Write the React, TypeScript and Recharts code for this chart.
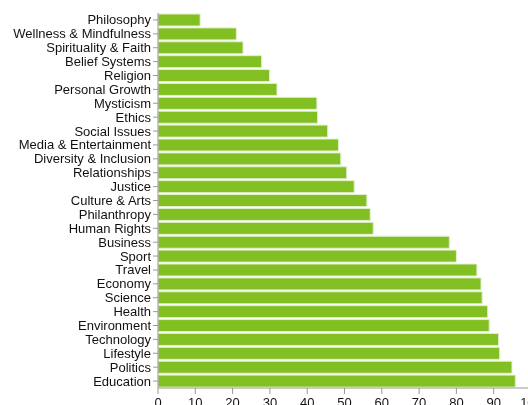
import { BarChart, Bar, XAxis, YAxis } from 'recharts';

const categories = [
  'Philosophy',
  'Wellness & Mindfulness',
  'Spirituality & Faith',
  'Belief Systems',
  'Religion',
  'Personal Growth',
  'Mysticism',
  'Ethics',
  'Social Issues',
  'Media & Entertainment',
  'Diversity & Inclusion',
  'Relationships',
  'Justice',
  'Culture & Arts',
  'Philanthropy',
  'Human Rights',
  'Business',
  'Sport',
  'Travel',
  'Economy',
  'Science',
  'Health',
  'Environment',
  'Technology',
  'Lifestyle',
  'Politics',
  'Education',
];

const values = [
  11.3, 21.0, 22.8, 27.8, 29.9, 31.9, 42.6, 42.8, 45.5, 48.4, 49.0, 50.6, 52.6, 56.0,
  56.9, 57.7, 78.1, 80.0, 85.5, 86.6, 86.9, 88.4, 88.8, 91.3, 91.6, 94.9, 95.8,
];

const xTicks = [0, 10, 20, 30, 40, 50, 60, 70, 80, 90, 100];

const data = categories.map((name, i) => ({ name, value: values[i] }));

const font = 'Liberation Sans, Arial, sans-serif';

// plain svg text so long labels don't wrap
function CategoryTick({ x, y, payload }: any) {
  return (
    <text x={x} y={y} dy={4.5} textAnchor="end" fill="#111" fontSize={13} fontFamily={font}>
      {payload.value}
    </text>
  );
}

function ValueTick({ x, y, payload }: any) {
  return (
    <text x={x} y={y} dy={11} textAnchor="middle" fill="#111" fontSize={13} fontFamily={font}>
      {payload.value}
    </text>
  );
}

export default function App() {
  // fixed box so the chart can run past the window edge like the reference without scrollbars
  return (
    <div style={{ position: 'fixed', left: 8, top: 8, width: 520, height: 397, overflow: 'hidden' }}>
      <BarChart
        width={523}
        height={400}
        data={data}
        layout="vertical"
        margin={{ top: 5, right: 0, left: 0, bottom: 0 }}
        barCategoryGap={1}
      >
        <XAxis
          type="number"
          domain={[0, 100]}
          ticks={xTicks}
          interval={0}
          height={20}
          stroke="#999"
          tick={<ValueTick />}
          tickSize={6}
        />
        <YAxis
          type="category"
          dataKey="name"
          width={150}
          interval={0}
          stroke="#999"
          tick={<CategoryTick />}
          tickSize={5}
        />
        <Bar
          dataKey="value"
          fill="#82bf23"
          stroke="#e2f0cf"
          strokeWidth={1}
          isAnimationActive={false}
        />
      </BarChart>
    </div>
  );
}
